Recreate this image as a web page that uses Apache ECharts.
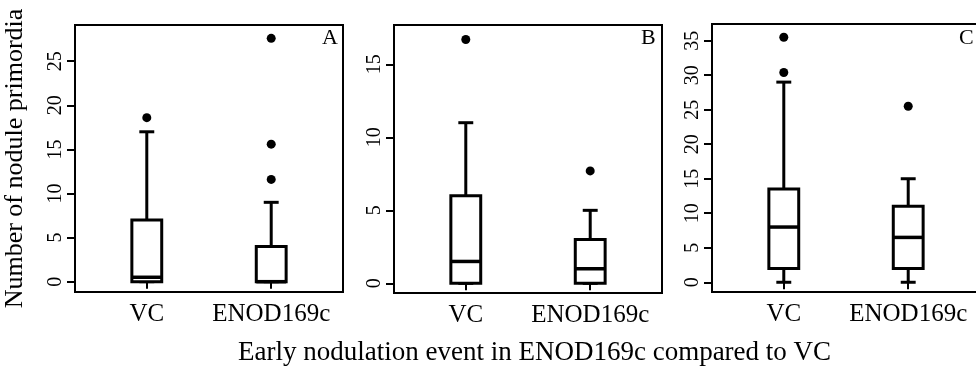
<!DOCTYPE html>
<html>
<head>
<meta charset="utf-8">
<script src="https://cdn.jsdelivr.net/npm/echarts@6/dist/echarts.min.js"></script>
<style>
  html, body { margin: 0; padding: 0; background: #fff; }
  #chart { width: 976px; height: 383px; }
</style>
</head>
<body>
<div id="chart"></div>
<script>
// Groups on the x axis
const categories = ['VC', 'ENOD169c'];

// Five-number summaries per group: [lower whisker, Q1, median, Q3, upper whisker]
const panelA = [[0, 0, 0.5, 7, 17], [0, 0, 0, 4, 9]];
const panelB = [[0, 0, 1.5, 6, 11], [0, 0, 1, 3, 5]];
const panelC = [[0, 2, 8, 13.5, 29], [0, 2, 6.5, 11, 15]];

// Outlying values per group
const outliersA = [[18.6], [27.6, 15.6, 11.6]];
const outliersB = [[16.7], [7.7]];
const outliersC = [[35.5, 30.4], [25.5]];

// Y tick labels per panel
const ticksA = [0, 5, 10, 15, 20, 25];
const ticksB = [0, 5, 10, 15];
const ticksC = [0, 5, 10, 15, 20, 25, 30, 35];

// Y ranges per panel
const rangeA = [-1.17, 29.11];
const rangeB = [-0.66, 17.69];
const rangeC = [-1.41, 37.42];

const panelLetters = ['A', 'B', 'C'];
const yTitle = 'Number of nodule primordia';
const xTitle = 'Early nodulation event in ENOD169c compared to VC';

const FONT = '"Liberation Serif", "Times New Roman", serif';
const BOX_HALF = 0.12;   // half box width, in x units
const LINE = 3;

const panels = [
  { stats: panelA, out: outliersA, ticks: ticksA, range: rangeA, left: 75, top: 25, height: 267 },
  { stats: panelB, out: outliersB, ticks: ticksB, range: rangeB, left: 394, top: 25, height: 268 },
  { stats: panelC, out: outliersC, ticks: ticksC, range: rangeC, left: 712, top: 24, height: 268 }
];

function renderBox(params, api) {
  const x = api.value(0);
  const lo = api.coord([x, api.value(1)]);
  const q1 = api.coord([x, api.value(2)]);
  const med = api.coord([x, api.value(3)]);
  const q3 = api.coord([x, api.value(4)]);
  const hi = api.coord([x, api.value(5)]);
  const xl = api.coord([x - BOX_HALF, 0])[0];
  const xr = api.coord([x + BOX_HALF, 0])[0];
  const cx = lo[0];
  const capHalf = (xr - xl) / 4;
  const stroke = { stroke: '#000', lineWidth: LINE, fill: null };
  return {
    type: 'group',
    children: [
      { type: 'line', shape: { x1: cx, y1: q3[1], x2: cx, y2: hi[1] }, style: stroke },
      { type: 'line', shape: { x1: cx, y1: q1[1], x2: cx, y2: lo[1] }, style: stroke },
      { type: 'line', shape: { x1: cx - capHalf, y1: hi[1], x2: cx + capHalf, y2: hi[1] }, style: stroke },
      { type: 'line', shape: { x1: cx - capHalf, y1: lo[1], x2: cx + capHalf, y2: lo[1] }, style: stroke },
      { type: 'rect', shape: { x: xl, y: q3[1], width: xr - xl, height: q1[1] - q3[1] },
        style: { fill: '#fff', stroke: '#000', lineWidth: LINE } },
      { type: 'line', shape: { x1: xl, y1: med[1], x2: xr, y2: med[1] }, style: { stroke: '#000', lineWidth: 3.5 } }
    ]
  };
}

const grid = [], xAxis = [], yAxis = [], series = [], title = [];

panels.forEach((p, i) => {
  grid.push({
    left: p.left, top: p.top, width: 268, height: p.height,
    outerBoundsMode: 'none', containLabel: false,
    show: true, borderColor: '#000', borderWidth: 2, backgroundColor: 'transparent'
  });
  xAxis.push({
    type: 'value', gridIndex: i, min: 0.423, max: 2.577,
    axisLine: { show: false }, splitLine: { show: false },
    axisTick: { show: true, customValues: [1, 2], length: 7, lineStyle: { color: '#000', width: 2 } },
    axisLabel: {
      customValues: [1, 2], margin: 10, color: '#000', fontFamily: FONT, fontSize: 25,
      formatter: v => categories[Math.round(v) - 1]
    }
  });
  yAxis.push({
    type: 'value', gridIndex: i, min: p.range[0], max: p.range[1],
    axisLine: { show: false }, splitLine: { show: false },
    name: i === 0 ? yTitle : '', nameLocation: 'middle', nameRotate: 90, nameGap: 47,
    nameTextStyle: { color: '#000', fontFamily: FONT, fontSize: 26 },
    axisTick: { show: true, customValues: p.ticks, length: 8, lineStyle: { color: '#000', width: 2 } },
    axisLabel: {
      customValues: p.ticks, rotate: 90, margin: 9, color: '#000', fontFamily: FONT, fontSize: 20
    }
  });
  series.push({
    type: 'custom', xAxisIndex: i, yAxisIndex: i, renderItem: renderBox,
    encode: { x: 0, y: [1, 2, 3, 4, 5] },
    data: p.stats.map((s, k) => [k + 1].concat(s)),
    z: 2
  });
  const pts = [];
  p.out.forEach((vals, k) => vals.forEach(v => pts.push([k + 1, v])));
  series.push({
    type: 'scatter', xAxisIndex: i, yAxisIndex: i, data: pts,
    symbol: 'circle', symbolSize: 9, itemStyle: { color: '#000', opacity: 1 }, z: 3
  });
  title.push({
    text: panelLetters[i], left: p.left + 247, top: 27, padding: 0,
    textStyle: { color: '#000', fontFamily: FONT, fontSize: 22, fontWeight: 'normal' }
  });
});

title.push({
  text: xTitle, left: 238, top: 339, padding: 0,
  textStyle: { color: '#000', fontFamily: FONT, fontSize: 27, fontWeight: 'normal' }
});

const chart = echarts.init(document.getElementById('chart'), null, { renderer: 'canvas' });
chart.setOption({
  animation: false,
  backgroundColor: '#fff',
  title, grid, xAxis, yAxis, series
});
</script>
</body>
</html>
